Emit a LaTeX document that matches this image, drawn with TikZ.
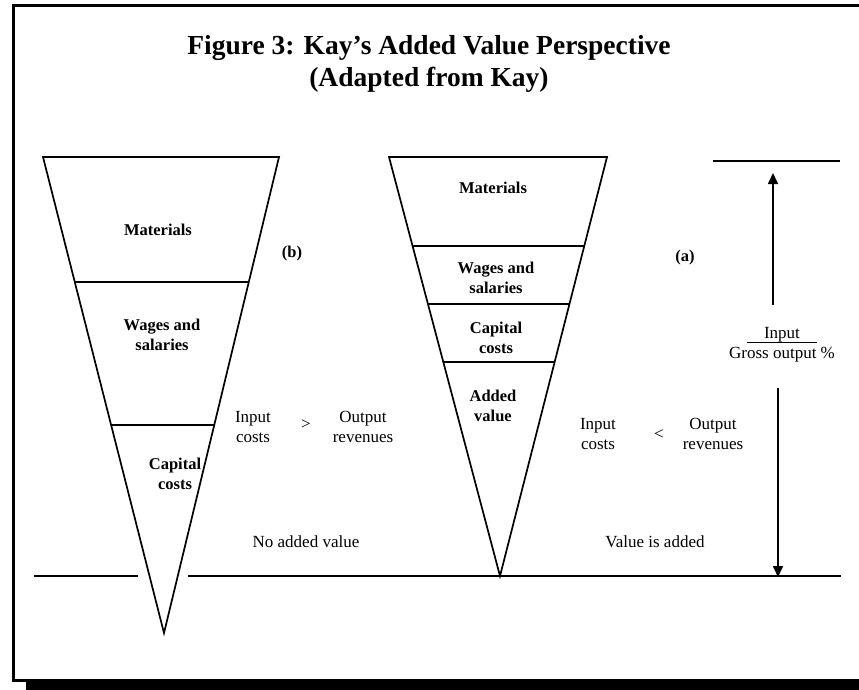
\documentclass[tikz,border=0pt]{standalone}
\usepackage{fontspec}
\setmainfont{Liberation Serif}
\usetikzlibrary{arrows.meta,calc}
\begin{document}
\begin{tikzpicture}[x=1pt,y=-1pt,
  edge/.style={line width=1.7pt, line join=miter},
  lbl/.style={font=\bfseries\fontsize{16.5}{20}\selectfont, align=center, inner sep=0pt},
  txt/.style={font=\fontsize{17}{19.5}\selectfont, align=center, inner sep=0pt},
  ttl/.style={font=\bfseries\fontsize{27.5}{32}\selectfont, align=center, inner sep=0pt},
  arr/.style={line width=1.7pt, -{Triangle[length=11pt,width=10pt]}}]
\useasboundingbox (0,0) rectangle (859,689);
\clip (0,0) rectangle (859,689);

% frame with drop shadow
\fill (26,679) rectangle (900,700);
\draw[line width=3pt] (13.5,5.5) rectangle (900,680.5);

% title
\node[ttl] (title1) at (429,48) {Figure 3: Kay’s Added Value Perspective};
\node[ttl] (title2) at (429,80) {(Adapted from Kay)};

% funnel (b): no added value
\coordinate (bL) at (43,157);
\coordinate (bR) at (279,157);
\coordinate (bA) at (164,633);
\draw[edge] (bL) -- (bR) -- (bA) -- cycle;
\draw[edge] ($(bL)!0.2626!(bA)$) -- ($(bR)!0.2626!(bA)$);
\draw[edge] ($(bL)!0.563!(bA)$) -- ($(bR)!0.563!(bA)$);

\node[lbl] (bmat) at (158,230) {Materials};
\node[lbl] (bwag) at (162,335) {Wages and\\salaries};
\node[lbl] (bcap) at (175,474) {Capital\\costs};
\node[lbl] (blab) at (292,254) {(b)};
\node[txt] (bin) at (253,427) {Input\\costs};
\node[txt] (bgt) at (306,425) {>};
\node[txt] (bout) at (363,427) {Output\\revenues};
\node[txt] (bno) at (306,542) {No added value};

% funnel (a): value is added
\coordinate (aL) at (389,157);
\coordinate (aR) at (607,157);
\coordinate (aA) at (500,576);
\draw[edge] (aL) -- (aR) -- (aA) -- cycle;
\draw[edge] ($(aL)!0.2124!(aA)$) -- ($(aR)!0.2124!(aA)$);
\draw[edge] ($(aL)!0.3508!(aA)$) -- ($(aR)!0.3508!(aA)$);
\draw[edge] ($(aL)!0.4893!(aA)$) -- ($(aR)!0.4893!(aA)$);

\node[lbl] (amat) at (493,188) {Materials};
\node[lbl] (awag) at (496,278) {Wages and\\salaries};
\node[lbl] (acap) at (496,338) {Capital\\costs};
\node[lbl] (aadd) at (493,406) {Added\\value};
\node[lbl] (alab) at (685,258) {(a)};
\node[txt] (ain) at (598,434) {Input\\costs};
\node[txt] (alt) at (659,435) {<};
\node[txt] (aout) at (713,434) {Output\\revenues};
\node[txt] (ayes) at (655,542) {Value is added};

% base line and top reference line
\coordinate (base1) at (34,576);
\coordinate (base2) at (138,576);
\coordinate (base3) at (188,576);
\coordinate (base4) at (841,576);
\draw[edge] (base1) -- (base2);
\draw[edge] (base3) -- (base4);
\coordinate (top1) at (713,161);
\coordinate (top2) at (840,161);
\draw[edge] (top1) -- (top2);

% input / gross output ratio with its arrows
\node[txt] (inp) at (782,335) {Input};
\node[txt] (gross) at (782,355) {Gross output \%};
\coordinate (ul1) at (747,342.5);
\coordinate (ul2) at (817,342.5);
\draw[line width=1.2pt] (ul1) -- (ul2);
\coordinate (upS) at (773,305);
\coordinate (upE) at (773,173);
\coordinate (dnS) at (778,388);
\coordinate (dnE) at (778,577);
\draw[arr] (upS) -- (upE);
\draw[arr] (dnS) -- (dnE);
\end{tikzpicture}
\end{document}
